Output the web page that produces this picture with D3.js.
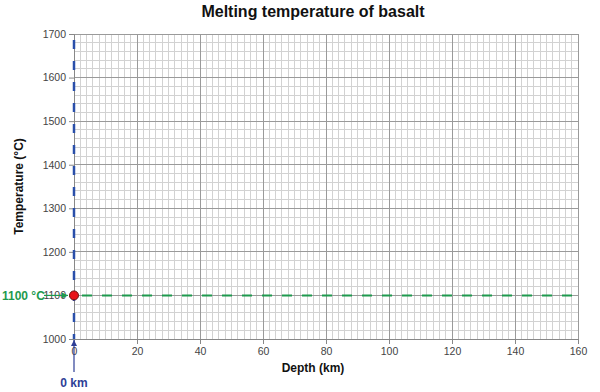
<!DOCTYPE html>
<html><head><meta charset="utf-8">
<script src="https://cdn.jsdelivr.net/npm/d3@7"></script>
<style>body{margin:0;background:#fff;} svg{display:block;}</style>
</head><body>
<script>
const xDomain = [0, 160];
const yDomain = [1000, 1700];
const xTicks = [0, 20, 40, 60, 80, 100, 120, 140, 160];
const yTicks = [1000, 1100, 1200, 1300, 1400, 1500, 1600, 1700];
const meltTemp = [1100];
const surfaceDepth = [0];
const point = [{depth: 0, temp: 1100}];

const W = 600, H = 392;
const m = {left: 74, right: 22, top: 34, bottom: 53};
const svg = d3.select("body").append("svg").attr("width", W).attr("height", H);
const x = d3.scaleLinear().domain(xDomain).range([m.left, W - m.right]);
const y = d3.scaleLinear().domain(yDomain).range([H - m.bottom, m.top]);
const font = "'Liberation Sans', Arial, sans-serif";

// minor grid
const g = svg.append("g");
g.selectAll(".vmin").data(d3.range(0, 161, 2)).join("line")
  .attr("x1", d => x(d)).attr("x2", d => x(d)).attr("y1", y(1000)).attr("y2", y(1700))
  .attr("stroke", "#d2d2d2").attr("stroke-width", 1).attr("shape-rendering", "crispEdges");
g.selectAll(".hmin").data(d3.range(1000, 1701, 20)).join("line")
  .attr("y1", d => y(d)).attr("y2", d => y(d)).attr("x1", x(0)).attr("x2", x(160))
  .attr("stroke", "#d2d2d2").attr("stroke-width", 1).attr("shape-rendering", "crispEdges");
// major grid
g.selectAll(".vmaj").data(xTicks).join("line")
  .attr("x1", d => x(d)).attr("x2", d => x(d)).attr("y1", y(1000)).attr("y2", y(1700))
  .attr("stroke", "#9a9a9a").attr("stroke-width", 1).attr("shape-rendering", "crispEdges");
g.selectAll(".hmaj").data(yTicks).join("line")
  .attr("y1", d => y(d)).attr("y2", d => y(d)).attr("x1", x(0)).attr("x2", x(160))
  .attr("stroke", "#9a9a9a").attr("stroke-width", 1).attr("shape-rendering", "crispEdges");

// axes
const xAxis = svg.append("g").attr("transform", `translate(0,${y(1000)})`)
  .call(d3.axisBottom(x).tickValues(xTicks).tickSize(5).tickPadding(4));
const yAxis = svg.append("g").attr("transform", `translate(${x(0)},0)`)
  .call(d3.axisLeft(y).tickValues(yTicks).tickSize(5).tickPadding(3).tickFormat(d3.format("d")));
[xAxis, yAxis].forEach(a => {
  a.select(".domain").attr("stroke", "#888");
  a.selectAll(".tick line").attr("stroke", "#888");
  a.selectAll("text").attr("fill", "#444").style("font-family", font).style("font-size", "10.5px");
});

// titles
svg.append("text").attr("x", 313).attr("y", 17).attr("text-anchor", "middle")
  .style("font-family", font).style("font-weight", "bold").style("font-size", "16px")
  .attr("fill", "#111").text("Melting temperature of basalt");
svg.append("text").attr("x", 313).attr("y", 372).attr("text-anchor", "middle")
  .style("font-family", font).style("font-weight", "bold").style("font-size", "12px")
  .attr("fill", "#111").text("Depth (km)");
svg.append("text").attr("transform", `translate(23,${(y(1000)+y(1700))/2}) rotate(-90)`)
  .attr("text-anchor", "middle")
  .style("font-family", font).style("font-weight", "bold").style("font-size", "12px")
  .attr("fill", "#111").text("Temperature (°C)");

// arrow markers
const defs = svg.append("defs");
function marker(id, color) {
  defs.append("marker").attr("id", id).attr("viewBox", "0 0 10 10").attr("refX", 10).attr("refY", 5)
    .attr("markerWidth", 8).attr("markerHeight", 6).attr("orient", "auto")
    .attr("markerUnits", "userSpaceOnUse")
    .append("path").attr("d", "M0,0 L10,5 L0,10 z").attr("fill", color);
}
const green = "#1e9a4e", blue = "#2e3f96";
marker("ag", green); marker("ab", blue);

// blue dashed vertical line at depth 0
svg.selectAll(".vline").data(surfaceDepth).join("line")
  .attr("x1", d => x(d)).attr("x2", d => x(d)).attr("y1", y(1700)).attr("y2", y(1000))
  .attr("stroke", "#2a4faa").attr("stroke-width", 2.5).attr("stroke-dasharray", "9,12")
  .attr("stroke-dashoffset", -6);
// green dashed horizontal line
svg.selectAll(".hline").data(meltTemp).join("line")
  .attr("x1", x(0)).attr("x2", x(160)).attr("y1", d => y(d)).attr("y2", d => y(d))
  .attr("stroke", green).attr("stroke-width", 2).attr("stroke-dasharray", "10,10")
  .attr("stroke-dashoffset", -8);

// annotations
svg.append("line").attr("x1", 44).attr("x2", 68).attr("y1", y(1100)).attr("y2", y(1100))
  .attr("stroke", green).attr("stroke-width", 1.2).attr("marker-end", "url(#ag)");
svg.append("text").attr("x", 2).attr("y", y(1100) + 4.5)
  .style("font-family", font).style("font-weight", "bold").style("font-size", "12px")
  .attr("fill", green).text("1100 °C");
svg.append("line").attr("x1", x(0)).attr("x2", x(0)).attr("y1", 372).attr("y2", y(1000) + 1)
  .attr("stroke", blue).attr("stroke-width", 1.2).attr("marker-end", "url(#ab)");
svg.append("text").attr("x", x(0)).attr("y", 387).attr("text-anchor", "middle")
  .style("font-family", font).style("font-weight", "bold").style("font-size", "12px")
  .attr("fill", blue).text("0 km");

// red point
svg.selectAll(".pt").data(point).join("circle")
  .attr("cx", d => x(d.depth)).attr("cy", d => y(d.temp)).attr("r", 4.5)
  .attr("fill", "#e8151b").attr("stroke", "#6a1010").attr("stroke-width", 1);
</script>
</body></html>
